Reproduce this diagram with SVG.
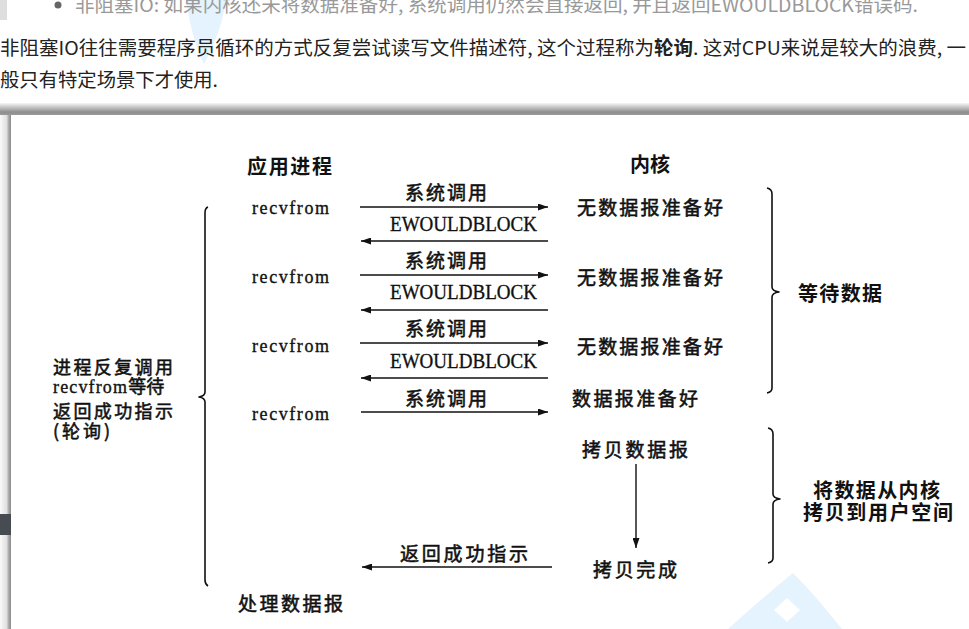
<svg xmlns="http://www.w3.org/2000/svg" width="969" height="629" viewBox="0 0 969 629">
<defs>
<marker id="ah" markerUnits="userSpaceOnUse" markerWidth="10" markerHeight="7" refX="10" refY="3.5" orient="auto">
<path d="M0,0 L10,3.5 L0,7 z" fill="#111"/>
</marker>
<linearGradient id="topband" x1="0" y1="0" x2="0" y2="1">
<stop offset="0" stop-color="#f6f6f6"/>
<stop offset="0.45" stop-color="#b8b8b8"/>
<stop offset="0.75" stop-color="#8e8e8e"/>
<stop offset="1" stop-color="#9a9a9a"/>
</linearGradient>
<linearGradient id="leftband" x1="0" y1="0" x2="1" y2="0">
<stop offset="0" stop-color="#fafafa"/>
<stop offset="0.6" stop-color="#e0e0e0"/>
<stop offset="0.8" stop-color="#a8a8a8"/>
<stop offset="1" stop-color="#8a8a8a"/>
</linearGradient>
<style>
.cn{font-family:"Noto Sans CJK SC","Noto Sans",sans-serif;fill:#111;dominant-baseline:central;}
.b{font-weight:700;}
.m{font-weight:400;stroke:#111;stroke-width:0.55;}
.lat{font-family:"Liberation Serif","DejaVu Serif",serif;fill:#111;stroke:#111;stroke-width:0.35;}
.page{font-family:"Noto Sans CJK SC","Noto Sans",sans-serif;}
.ln{stroke:#111;stroke-width:1.4;fill:none;}
.br{stroke:#111;stroke-width:1.6;fill:none;stroke-linejoin:round;}
.wm{fill:#e4f3fd;}
</style>
</defs>
<rect width="969" height="629" fill="#fff"/>

<!-- page text above -->
<g id="page">
<path class="wm" d="M186,0 L226,0 Q222,30 204,64 Q192,40 186,0 z"/>
<rect x="0" y="0" width="7" height="20" fill="#dedede"/>
<circle cx="58" cy="5" r="3.5" fill="#666"/>
<text class="page" x="75" y="12" font-size="19" fill="#999" textLength="843" lengthAdjust="spacingAndGlyphs">非阻塞IO: 如果内核还未将数据准备好, 系统调用仍然会直接返回, 并且返回EWOULDBLOCK错误码.</text>
<text class="page" x="0" y="55" font-size="19" fill="#222" textLength="966" lengthAdjust="spacingAndGlyphs">非阻塞IO往往需要程序员循环的方式反复尝试读写文件描述符, 这个过程称为<tspan font-weight="700">轮询</tspan>. 这对CPU来说是较大的浪费, 一</text>
<text class="page" x="0" y="87" font-size="19" fill="#222" textLength="218" lengthAdjust="spacingAndGlyphs">般只有特定场景下才使用.</text>
</g>

<!-- image frame shadow -->
<g id="frame">
<rect x="0" y="103" width="969" height="12" fill="url(#topband)"/>
<rect x="0" y="115" width="11" height="514" fill="url(#leftband)"/>
<rect x="0" y="514" width="11" height="21" fill="#474c52"/>
<path class="wm" d="M793,573 Q815,595 842,629 L728,629 Q760,600 793,573 z"/>
<path d="M787,598 L800,610 L787,622 L774,610 z" fill="#fff"/>
</g>

<!-- headers -->
<g id="hdr-app"><text class="cn b" x="247" y="165" font-size="20" textLength="85" lengthAdjust="spacing">应用进程</text></g>
<g id="hdr-kernel"><text class="cn b" x="630" y="163" font-size="20" textLength="40" lengthAdjust="spacing">内核</text></g>

<!-- application side -->
<g id="app-recv1"><text class="lat" x="252" y="214" font-size="18" textLength="77" lengthAdjust="spacing">recvfrom</text></g>
<g id="app-recv2"><text class="lat" x="252" y="283" font-size="18" textLength="77" lengthAdjust="spacing">recvfrom</text></g>
<g id="app-recv3"><text class="lat" x="252" y="352" font-size="18" textLength="77" lengthAdjust="spacing">recvfrom</text></g>
<g id="app-recv4"><text class="lat" x="252" y="420" font-size="18" textLength="77" lengthAdjust="spacing">recvfrom</text></g>
<g id="app-process"><text class="cn m" x="238" y="602" font-size="19" textLength="105" lengthAdjust="spacing">处理数据报</text></g>

<!-- kernel side -->
<g id="k-nodata1"><text class="cn m" x="577" y="206" font-size="19" textLength="146" lengthAdjust="spacing">无数据报准备好</text></g>
<g id="k-nodata2"><text class="cn m" x="577" y="276" font-size="19" textLength="146" lengthAdjust="spacing">无数据报准备好</text></g>
<g id="k-nodata3"><text class="cn m" x="577" y="345" font-size="19" textLength="146" lengthAdjust="spacing">无数据报准备好</text></g>
<g id="k-ready"><text class="cn m" x="572" y="397" font-size="19" textLength="126" lengthAdjust="spacing">数据报准备好</text></g>
<g id="k-copy"><text class="cn m" x="582" y="448" font-size="19" textLength="106" lengthAdjust="spacing">拷贝数据报</text></g>
<g id="k-done"><text class="cn m" x="593" y="568" font-size="19" textLength="84" lengthAdjust="spacing">拷贝完成</text></g>

<!-- left annotation -->
<g id="note-left">
<path class="br" d="M208,207 Q205,208 205,213 L205,392 Q205,396 199,397 Q205,398 205,402 L205,580 Q205,584 208,586"/>
<text class="cn m" x="53" y="366" font-size="18" textLength="120" lengthAdjust="spacing">进程反复调用</text>
<text x="53" y="393" font-size="18"><tspan class="lat" font-size="18" textLength="74">recvfrom</tspan><tspan font-family="Noto Sans CJK SC, sans-serif" fill="#111" stroke="#111" stroke-width="0.55">等待</tspan></text>
<text class="cn m" x="53" y="410" font-size="18" textLength="120" lengthAdjust="spacing">返回成功指示</text>
<text class="cn m" x="53" y="430" font-size="18" textLength="57" lengthAdjust="spacing">(轮询)</text>
</g>

<!-- right annotations -->
<g id="note-wait">
<path class="br" d="M767,188 Q772,189 772,194 L772,287 Q772,291 779,292 Q772,293 772,297 L772,388 Q772,392 767,393"/>
<text class="cn b" x="798" y="292" font-size="20" textLength="84" lengthAdjust="spacing">等待数据</text>
</g>
<g id="note-copy">
<path class="br" d="M768,428 Q773,429 773,434 L773,494 Q773,498 780,499 Q773,500 773,504 L773,558 Q773,562 768,563"/>
<text class="cn b" x="813" y="489" font-size="20" textLength="127" lengthAdjust="spacing">将数据从内核</text>
<text class="cn b" x="803" y="511" font-size="20" textLength="150" lengthAdjust="spacing">拷贝到用户空间</text>
</g>

<!-- connectors -->
<g id="connectors">
<path class="ln" marker-end="url(#ah)" d="M360,207 H548"/>
<path class="ln" marker-end="url(#ah)" d="M548,241 H361"/>
<path class="ln" marker-end="url(#ah)" d="M360,275 H548"/>
<path class="ln" marker-end="url(#ah)" d="M548,310 H361"/>
<path class="ln" marker-end="url(#ah)" d="M360,343 H548"/>
<path class="ln" marker-end="url(#ah)" d="M548,378 H361"/>
<path class="ln" marker-end="url(#ah)" d="M361,412 H548"/>
<path class="ln" marker-end="url(#ah)" d="M636,464 V548"/>
<path class="ln" marker-end="url(#ah)" d="M552,567 H362"/>
<text class="cn m" x="405" y="191" font-size="19" textLength="82" lengthAdjust="spacing">系统调用</text>
<text class="lat" x="390" y="231" font-size="22" textLength="147" lengthAdjust="spacingAndGlyphs">EWOULDBLOCK</text>
<text class="cn m" x="405" y="259" font-size="19" textLength="82" lengthAdjust="spacing">系统调用</text>
<text class="lat" x="390" y="299" font-size="22" textLength="147" lengthAdjust="spacingAndGlyphs">EWOULDBLOCK</text>
<text class="cn m" x="405" y="327" font-size="19" textLength="82" lengthAdjust="spacing">系统调用</text>
<text class="lat" x="390" y="368" font-size="22" textLength="147" lengthAdjust="spacingAndGlyphs">EWOULDBLOCK</text>
<text class="cn m" x="405" y="397" font-size="19" textLength="82" lengthAdjust="spacing">系统调用</text>
<text class="cn m" x="400" y="552" font-size="19" textLength="128" lengthAdjust="spacing">返回成功指示</text>
</g>
</svg>
